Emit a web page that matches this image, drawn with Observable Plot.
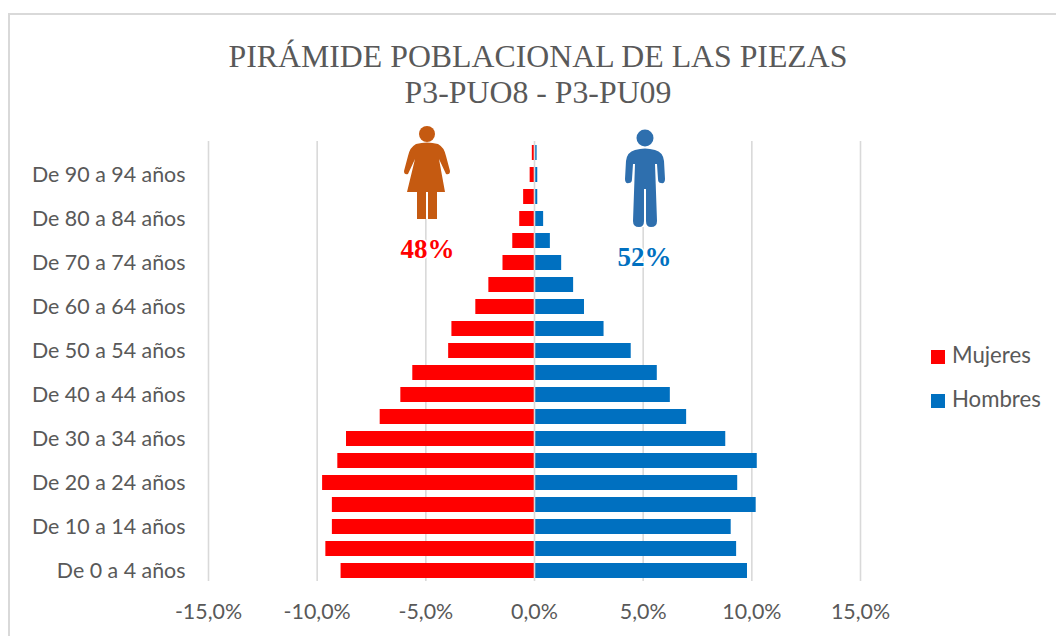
<!DOCTYPE html>
<html><head><meta charset="utf-8">
<script src="https://cdn.jsdelivr.net/npm/d3@7"></script>
<script src="https://cdn.jsdelivr.net/npm/@observablehq/plot@0.6"></script>
<style>
html,body{margin:0;padding:0;background:#fff;overflow:hidden}
#page{position:relative;width:1056px;height:636px;overflow:hidden;font-family:Lato,sans-serif}
#frame{position:absolute;left:8px;top:13px;width:1060px;height:640px;border:2px solid #d9d9d9;box-sizing:border-box}
#title{position:absolute;left:0;top:39px;width:1076px;text-align:center;font-family:"Liberation Serif",serif;font-size:31.8px;line-height:36px;color:#595959}
#chart{position:absolute;left:0;top:100px}
#legend{position:absolute;left:931px;top:333px;color:#595959;font-size:22.2px;line-height:44px}
#legend i{display:inline-block;width:14px;height:14px;margin-right:7px;vertical-align:-1px}
.icon{position:absolute}
</style></head><body>
<div id="page">
<div id="frame"></div>
<div id="title">PIRÁMIDE POBLACIONAL DE LAS PIEZAS<br>P3-PUO8 - P3-PU09</div>
<div id="chart"></div>
<svg class="icon" style="left:403px;top:126px" width="48" height="93" viewBox="0 0 48 93">
<rect width="48" height="93" fill="#fff"/>
<g fill="#c55a11"><circle cx="24" cy="8" r="8"/>
<path d="M13 18 Q24 15 35 18 Q41 21 43 30 L47 45 Q47 49 43 48 L36 33 L42 66 L34 66 L34 93 L25 93 L25 66 L23 66 L23 93 L14 93 L14 66 L4 66 L12 33 L5 48 Q1 49 1 45 L5 30 Q7 21 13 18Z"/></g></svg>
<svg class="icon" style="left:622px;top:129px" width="46" height="98" viewBox="0 0 46 98">
<rect width="46" height="98" fill="#fff"/>
<g fill="#2e6fae"><circle cx="23" cy="9" r="8.5"/>
<path d="M13 21 Q23 18 33 21 Q41 23 42 32 L43 50 Q43 55 39 54 Q36 54 36 50 L35 35 L33 35 L35 92 Q35 98 29 98 Q24 98 24 92 L24 60 L22 60 L22 92 Q22 98 17 98 Q11 98 11 92 L13 35 L11 35 L10 50 Q10 54 7 54 Q3 55 3 50 L4 32 Q5 23 13 21Z"/></g></svg>
<div id="legend"><div><i style="background:#ff0000"></i>Mujeres</div><div><i style="background:#0070c0"></i>Hombres</div></div>
</div>
<script>
const ageGroups = ["De 0 a 4 años","De 5 a 9 años","De 10 a 14 años","De 15 a 19 años","De 20 a 24 años","De 25 a 29 años","De 30 a 34 años","De 35 a 39 años","De 40 a 44 años","De 45 a 49 años","De 50 a 54 años","De 55 a 59 años","De 60 a 64 años","De 65 a 69 años","De 70 a 74 años","De 75 a 79 años","De 80 a 84 años","De 85 a 89 años","De 90 a 94 años","De 95 y más"];
const mujeres = [-8.9,-9.6,-9.3,-9.3,-9.75,-9.05,-8.65,-7.1,-6.15,-5.6,-3.95,-3.8,-2.7,-2.1,-1.45,-1.0,-0.68,-0.5,-0.2,-0.1];
const hombres = [9.8,9.3,9.05,10.2,9.35,10.25,8.8,7.0,6.25,5.65,4.45,3.2,2.3,1.8,1.25,0.73,0.42,0.15,0.15,0.12];
const xTicks = [-15,-10,-5,0,5,10,15];
const yLabels = ageGroups.filter((d,i)=>i%2===0);
const pctStyle = {x:"x",y:"y",text:"t",fill:"c",fontFamily:"Liberation Serif",fontWeight:"bold",fontSize:27,stroke:"#fff",strokeWidth:3,paintOrder:"stroke"};
const pctMujeres = [{x:-4.92,y:"De 70 a 74 años",t:"48%",c:"#ff0000"}];
const pctHombres = [{x:5.06,y:"De 70 a 74 años",t:"52%",c:"#0070c0"}];
const fmt = d => d3.format(".1f")(d).replace(".",",").replace("−","-")+"%";
const plot = Plot.plot({
  width:1056,height:536,marginLeft:208,marginRight:196,marginTop:41,marginBottom:55,
  style:{background:"transparent",fontFamily:"Lato,sans-serif",fontSize:"21.4px",color:"#595959"},
  x:{domain:[-15,15],ticks:xTicks,label:null,tickFormat:fmt,tickSize:0,tickPadding:22},
  y:{domain:ageGroups,reverse:true,paddingInner:0.33,paddingOuter:0.165,align:0.5,label:null,tickSize:0,tickPadding:23,tickFormat:d=>yLabels.includes(d)?d:""},
  marks:[
    Plot.ruleX(xTicks.filter(d=>d!==0),{stroke:"#d9d9d9",strokeWidth:1.6}),
    Plot.barX(mujeres,{x:d=>d,y:(d,i)=>ageGroups[i],fill:"#ff0000"}),
    Plot.barX(hombres,{x:d=>d,y:(d,i)=>ageGroups[i],fill:"#0070c0"}),
    Plot.ruleX([0],{stroke:"#d9d9d9",strokeWidth:1.6}),
    Plot.text(pctMujeres,{...pctStyle,dy:-14}),
    Plot.text(pctHombres,{...pctStyle,dy:-6})
  ]
});
document.getElementById("chart").append(plot);
</script>
</body></html>
